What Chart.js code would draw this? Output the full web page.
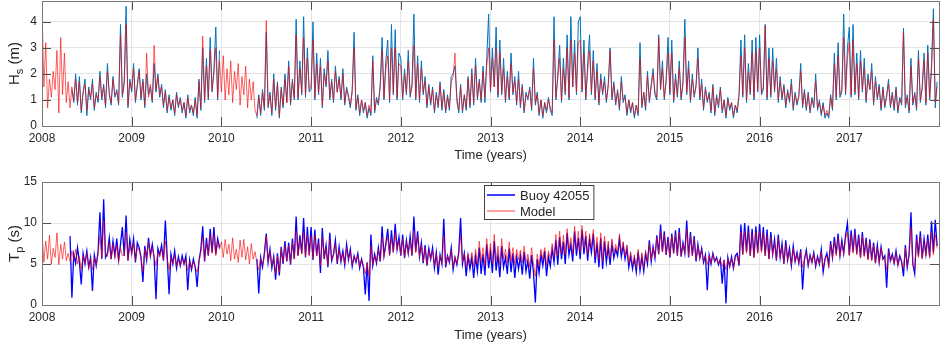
<!DOCTYPE html>
<html>
<head>
<meta charset="utf-8">
<script src="https://cdn.jsdelivr.net/npm/chart.js@4.4.1/dist/chart.umd.min.js"></script>
<style>
  body { margin: 0; background: #fff; }
  #wrap { position: relative; width: 941px; height: 344px; }
  .box { position: absolute; left: 0; width: 941px; height: 172px; }
</style>
</head>
<body>
<div id="wrap">
  <div class="box" style="top:0"><canvas id="hsChart"></canvas></div>
  <div class="box" style="top:172px"><canvas id="tpChart"></canvas></div>
</div>
<script>
// weekly-ish samples, 48 per year (4 per month), starting Jan 2008
const START_YEAR = 2008;
const PER_YEAR = 48;
const yearTicks = [2008, 2009, 2010, 2011, 2012, 2013, 2014, 2015, 2016, 2017];
const _ = null; // no buoy data

// significant wave height Hs (m), buoy 42055
const hsBuoy = [
  _,_,_,_, _,_,_,_, _,_,_,_, _,_,_,_, 1.4,0.9,2.0,0.8, 1.9,0.5,1.3,1.8, 0.4,1.5,1.0,1.8, 0.6,1.3,0.9,2.1, 1.0,1.6,0.7,2.4, 1.2,0.8,1.9,1.1, 1.4,0.8,3.9,1.1, 1.7,4.6,0.7,1.8,
  1.3,2.4,0.9,1.6, 2.2,1.0,1.8,0.7, 2.0,1.2,1.5,0.9, 2.4,1.3,2.0,1.1, 1.6,0.7,1.4,0.5, 1.2,0.6,1.0,0.4, 1.3,0.7,1.1,0.5, 0.9,0.3,1.2,0.5, 0.8,0.4,1.1,0.3, 1.8,0.6,3.0,0.9, 2.6,1.0,3.4,1.3, 2.2,3.8,1.0,2.9,
  _,_,_,_, _,_,_,_, _,_,_,_, _,_,_,_, _,_,_,0.3, 1.2,0.4,1.4,0.6, 3.6,0.7,1.3,0.4, 2.0,0.6,1.7,0.3, 1.5,0.7,2.0,0.9, 2.5,0.8,1.8,1.0, 4.1,1.0,2.5,1.2, 4.2,1.1,3.0,1.3,
  1.4,4.0,1.0,2.8, 1.2,2.6,0.7,2.2, 1.5,2.9,1.0,1.8, 0.9,2.3,1.3,1.9, 1.0,2.2,0.8,1.5, 1.1,0.7,1.4,3.6, 0.6,1.2,0.4,1.0, 0.5,0.9,0.3,0.7, 0.4,2.7,0.5,1.1, 0.8,1.6,3.4,1.0, 2.5,3.3,0.9,3.9, 1.2,3.7,1.0,2.8,
  2.6,1.0,2.2,1.2, 2.9,1.1,1.6,4.3, 1.0,2.7,0.9,2.5, 1.2,1.9,0.7,1.6, 0.8,1.5,0.5,1.3, 0.7,1.7,0.6,1.4, 0.5,1.2,0.6,1.9, 2.0,2.3,1.1,0.5, 1.6,0.5,1.2,0.6, 1.9,0.7,2.2,0.8, 2.6,1.0,1.8,0.9, 2.3,0.9,2.6,4.3,
  1.3,3.0,1.5,3.8, 1.1,3.3,1.2,2.6, 0.9,2.1,1.0,2.8, 1.2,1.9,0.8,2.1, 0.7,1.6,0.5,1.3, 1.0,1.5,0.6,2.6, 0.8,1.3,0.4,1.0, 0.3,0.9,0.5,1.1, 0.6,0.4,4.2,1.0, 2.0,3.1,0.9,2.6, 1.2,3.5,1.0,4.2, 1.5,3.3,1.2,4.0,
  4.2,1.3,3.3,1.0, 2.4,3.5,1.2,2.9, 1.0,2.4,0.8,2.0, 1.2,1.9,0.9,1.6, 3.0,1.0,1.7,0.8, 1.4,0.6,1.9,0.9, 1.2,0.4,1.0,0.5, 0.9,0.3,0.8,0.4, 3.2,0.7,1.3,0.6, 2.1,0.9,1.6,2.2, 1.2,1.0,3.5,1.4, 2.5,1.0,1.8,3.4,
  1.2,3.3,0.9,2.0, 1.1,2.5,1.0,1.7, 4.1,1.2,2.5,0.9, 2.0,1.1,1.6,3.0, 1.0,1.8,0.6,1.5, 0.9,1.3,0.5,1.6, 0.4,1.2,0.7,1.5, 0.5,1.0,0.3,1.1, 0.6,0.9,0.3,0.8, 0.5,1.2,3.3,1.1, 3.5,0.9,2.4,1.2, 3.3,1.0,3.4,1.3,
  3.5,1.2,1.4,3.9, 1.0,3.0,1.1,3.0, 1.3,2.6,0.9,1.9, 1.0,1.6,0.7,1.4, 0.9,1.8,0.6,1.3, 0.8,1.2,2.4,0.7, 1.4,0.6,1.3,0.5, 1.1,0.7,2.0,0.6, 1.0,0.4,0.9,0.3, 0.5,0.3,1.2,0.6, 2.8,1.0,3.2,1.1, 1.3,4.3,1.2,3.0,
  3.8,1.1,3.9,1.2, 2.8,1.0,2.9,1.3, 2.6,0.9,2.0,1.4, 2.4,0.8,1.9,1.0, 1.6,0.6,1.5,0.7, 1.2,1.8,0.7,1.3, 0.6,1.5,0.5,1.1, 0.8,3.75,0.7,1.2, 0.5,2.6,0.8,1.3, 0.6,2.9,0.9,1.5, 2.8,0.8,3.1,1.0, 2.4,4.5,0.7,1.7
];

// Hs (m), model
const hsModel = [
  4.7,1.5,3.2,0.7, 1.8,1.1,2.1,1.4, 2.9,0.5,3.4,1.2, 2.8,0.9,1.7,0.7, 1.5,1.0,1.8,0.9, 1.7,0.6,1.3,1.6, 0.6,1.4,1.1,1.6, 0.7,1.2,1.0,1.9, 1.1,1.5,0.8,2.1, 1.3,0.9,1.8,1.2, 1.3,0.9,3.5,1.2, 1.6,3.9,0.8,1.7,
  1.4,2.2,1.0,1.5, 2.1,1.1,1.7,0.8, 2.8,1.1,1.6,1.0, 3.1,1.4,1.9,1.2, 1.5,0.8,1.3,0.6, 1.1,0.7,1.0,0.5, 1.2,0.8,1.0,0.6, 0.9,0.4,1.1,0.6, 0.8,0.5,1.0,0.4, 1.7,0.7,3.45,1.0, 2.3,1.1,2.9,1.4, 2.0,3.0,1.1,2.5,
  1.3,2.7,1.0,2.2, 1.2,2.5,0.9,2.1, 1.4,2.4,0.8,1.9, 1.2,2.3,0.7,1.8, 1.0,1.7,0.6,0.4, 1.1,0.5,1.3,0.7, 4.05,0.8,1.2,0.5, 1.8,0.7,1.6,0.4, 1.4,0.8,1.8,0.9, 2.3,0.9,1.7,1.1, 3.5,1.1,2.2,1.3, 3.4,1.2,2.6,1.4,
  1.5,3.3,1.1,2.4, 1.3,2.3,0.8,2.0, 1.6,2.5,1.1,1.7, 1.0,2.1,1.3,1.8, 1.1,2.0,0.9,1.4, 1.2,0.8,1.3,3.0, 0.7,1.1,0.5,1.0, 0.6,0.9,0.4,0.8, 0.5,2.5,0.6,1.0, 0.9,1.5,2.9,1.1, 2.2,2.7,1.0,3.0, 1.3,3.0,1.1,2.4,
  2.3,1.1,2.0,1.3, 2.5,1.2,1.5,3.1, 1.1,2.4,1.0,2.2, 1.3,1.7,0.8,1.5, 0.9,1.4,0.6,1.2, 0.8,1.6,0.7,1.3, 0.6,1.1,0.7,1.7, 1.9,2.8,0.9,0.6, 1.5,0.6,1.2,0.7, 1.8,0.8,2.0,0.9, 2.3,1.1,1.7,1.0, 2.1,1.1,2.3,3.0,
  1.4,2.6,1.5,3.0, 1.2,2.8,1.3,2.2, 1.0,1.9,1.1,2.4, 1.3,1.7,0.9,1.8, 0.8,1.5,0.6,1.2, 1.1,1.4,0.7,2.2, 0.9,1.2,0.5,1.0, 0.4,0.9,0.6,1.0, 0.7,0.5,3.3,1.1, 1.8,2.6,1.0,2.2, 1.3,3.0,1.1,3.3, 1.5,2.8,1.3,3.2,
  3.3,1.4,2.8,1.1, 2.1,2.9,1.3,2.5, 1.1,2.1,0.9,1.8, 1.3,1.7,1.0,1.5, 2.9,1.1,1.6,0.9, 1.3,0.7,1.7,1.0, 1.1,0.5,1.0,0.6, 0.9,0.4,0.8,0.5, 2.6,0.8,1.3,0.7, 1.9,1.0,1.5,2.0, 1.3,1.1,3.4,1.4, 2.2,1.1,1.7,2.8,
  1.3,2.8,1.0,1.8, 1.2,2.2,1.1,1.6, 3.4,1.3,2.2,1.0, 1.8,1.2,1.5,2.6, 1.1,1.6,0.7,1.4, 1.0,1.2,0.6,1.5, 0.5,1.1,0.8,1.4, 0.6,1.0,0.4,1.0, 0.7,0.9,0.4,0.8, 0.6,1.2,2.7,1.2, 3.0,1.0,2.1,1.3, 2.8,1.1,2.9,1.4,
  3.0,1.3,1.5,3.85, 1.1,2.6,1.2,2.5, 1.4,2.2,1.0,1.7, 1.1,1.5,0.8,1.3, 1.0,1.6,0.7,1.2, 0.9,1.1,2.1,0.8, 1.3,0.7,1.2,0.6, 1.0,0.8,1.7,0.7, 0.9,0.5,0.8,0.4, 0.6,0.4,1.1,0.7, 2.4,1.1,2.7,1.2, 1.4,3.4,1.3,2.6,
  3.2,1.2,3.3,1.3, 2.4,1.1,2.5,1.4, 2.2,1.0,1.8,1.4, 2.1,0.9,1.7,1.1, 1.5,0.7,1.4,0.8, 1.1,1.6,0.8,1.2, 0.7,1.4,0.6,1.0, 0.9,3.6,0.8,1.1, 0.6,2.3,0.9,1.2, 0.7,2.6,1.0,1.4, 2.5,0.9,2.8,1.1, 2.1,4.1,0.9,1.5
];

// peak period Tp (s), buoy 42055
const tpBuoy = [
  _,_,_,_, _,_,_,_, _,_,_,_, _,_,_,8.4, 0.9,6.2,5.1,7.0, 5.3,2.5,6.3,5.0, 6.6,4.6,5.8,1.7, 6.1,4.8,6.5,11.3, 5.6,12.9,5.8,6.3, 8.2,5.6,7.8,6.0, 8.1,5.5,7.4,9.5, 6.0,10.9,5.4,8.0,
  6.3,8.1,5.2,7.6, 7.0,5.8,2.8,7.2, 5.5,8.2,6.0,7.4, 5.8,0.7,6.9,6.1, 7.3,5.4,10.3,5.9, 1.3,6.2,5.0,6.6, 4.5,5.9,4.8,6.0, 5.0,6.0,1.8,5.5, 4.3,5.6,4.6,2.2, 5.4,6.8,9.6,5.3, 8.2,6.0,9.3,6.4, 9.5,6.2,8.1,7.0,
  _,_,_,_, _,_,_,_, _,_,_,_, _,_,_,_, _,_,_,5.6, 1.4,5.8,4.6,6.3, 8.7,5.2,6.8,4.5, 5.9,3.1,6.3,3.6, 7.1,5.0,7.8,5.3, 7.6,4.9,8.1,5.6, 10.8,6.0,8.5,6.3, 10.6,5.8,9.5,6.1,
  9.5,5.5,9.2,6.0, 8.1,3.9,9.4,5.6, 7.3,4.6,8.8,5.4, 6.2,7.9,5.0,7.1, 5.3,6.6,4.9,7.4, 5.5,6.8,4.7,6.0, 5.2,6.3,4.5,5.6, 4.6,1.3,5.2,0.5, 8.6,4.8,6.2,5.1, 7.0,5.3,9.6,6.0, 7.5,9.3,6.1,9.1, 6.4,9.9,6.8,8.3,
  6.0,8.6,5.7,7.9, 6.3,8.4,6.0,10.8, 6.5,9.0,5.9,7.6, 5.1,7.3,4.8,6.9, 5.6,7.0,4.5,6.4, 3.7,6.1,5.0,10.5, 4.6,6.0,5.2,7.0, 4.3,5.8,4.9,6.4, 10.6,5.0,6.3,3.5, 6.0,4.4,5.8,3.3, 5.9,4.1,7.0,3.8, 6.2,3.6,7.4,4.5,
  6.5,3.9,7.8,4.2, 6.1,3.4,7.2,4.6, 5.8,3.8,6.9,4.0, 6.3,3.3,5.9,4.4, 6.0,3.7,6.5,4.1, 5.4,3.2,6.1,4.0, 0.3,5.6,3.9,6.2, 4.8,6.6,3.5,5.9, 4.7,6.8,5.2,7.9, 4.9,8.3,5.6,7.7, 5.0,8.8,6.1,7.4, 5.3,9.0,6.0,8.2,
  5.6,9.2,6.2,8.4, 5.4,8.0,6.4,8.7, 5.1,7.6,4.6,8.2, 4.4,7.8,5.2,7.1, 4.9,7.5,5.7,6.8, 6.0,8.1,5.9,7.3, 5.6,6.9,4.6,6.0, 4.4,5.7,4.0,6.5, 4.2,5.9,4.1,6.3, 5.0,7.9,5.3,7.1, 5.7,8.5,6.2,9.8, 6.5,9.0,6.1,8.3,
  5.8,8.7,6.3,9.1, 6.0,9.4,5.9,7.6, 6.3,10.3,5.8,8.9, 6.0,8.4,5.3,7.4, 5.7,6.9,5.2,6.1, 1.8,6.1,5.0,6.3, 5.3,5.8,4.9,5.6, 2.6,5.5,0.2,5.8, 4.7,5.9,4.5,6.0, 6.3,4.8,9.8,6.2, 10.0,6.5,9.7,6.0, 9.3,5.8,9.6,6.4,
  9.9,6.6,9.5,6.0, 9.2,5.6,8.9,6.2, 8.0,5.4,8.6,5.8, 7.5,5.0,7.9,5.5, 6.9,4.8,7.2,5.3, 6.4,5.1,6.8,1.9, 5.6,6.7,4.8,6.1, 5.2,6.4,4.7,5.9, 5.0,6.8,4.0,5.6, 6.3,4.9,7.8,5.8, 8.3,6.2,8.7,6.0, 7.9,6.3,8.5,10.0,
  6.1,9.1,6.5,9.3, 6.3,8.6,5.8,8.9, 6.0,8.2,5.6,8.0, 5.5,7.6,5.1,7.3, 5.2,7.1,5.6,6.0, 2.1,6.9,5.4,6.2, 5.1,6.6,4.9,6.0, 5.3,3.5,7.3,4.6, 6.2,11.3,5.0,3.8, 8.6,6.0,9.0,5.7, 8.1,6.2,8.6,5.9, 10.2,6.4,10.4,7.2
];

// Tp (s), model
const tpModel = [
  9.0,5.2,7.8,5.6, 8.5,5.0,6.9,5.8, 8.8,4.9,7.4,5.6, 7.7,5.4,6.3,5.3, 6.6,5.5,6.8,5.0, 5.9,4.3,6.0,5.1, 6.3,4.4,5.7,4.3, 5.8,4.9,6.2,8.5, 5.8,10.3,6.0,5.9, 7.6,5.6,7.4,5.8, 7.3,5.2,7.0,6.0, 6.1,8.8,5.5,7.4,
  6.2,7.6,5.4,7.1, 6.6,5.7,4.1,6.8, 5.6,7.7,5.9,7.0, 5.9,4.8,6.5,5.9, 6.9,5.5,7.8,5.6, 4.3,5.8,5.0,6.1, 4.7,5.6,4.8,5.7, 5.0,5.5,4.2,5.3, 4.5,5.3,4.6,4.0, 5.2,6.4,8.3,5.5, 7.6,6.1,8.5,6.3, 8.6,6.0,7.8,6.8,
  7.7,5.8,8.0,6.2, 7.4,5.4,8.2,5.6, 6.8,5.2,7.9,5.8, 8.0,5.5,7.1,5.0, 7.5,5.6,6.5,5.1, 4.3,5.7,4.8,6.1, 8.4,5.3,6.5,4.8, 5.8,3.8,6.0,4.0, 6.8,5.2,7.3,5.4, 7.2,5.1,7.6,5.6, 9.0,6.0,8.0,6.2, 8.8,5.9,8.6,6.0,
  8.4,5.6,8.5,6.0, 7.6,4.8,8.3,5.7, 7.0,4.9,8.0,5.5, 6.1,7.4,5.2,6.8, 5.4,6.3,5.0,7.0, 5.6,6.5,4.9,5.9, 5.3,6.0,4.7,5.5, 4.8,3.8,5.1,3.5, 7.2,4.9,6.0,5.2, 6.8,5.4,8.3,5.9, 7.2,8.3,6.0,8.2, 6.5,8.8,6.7,7.8,
  6.1,8.1,5.8,7.6, 6.2,7.9,6.1,9.0, 6.4,8.4,5.9,7.3, 5.3,7.0,4.9,6.6, 5.6,6.7,4.8,6.2, 4.6,6.0,5.1,8.5, 4.9,6.0,5.3,6.7, 4.6,5.9,5.0,6.3, 8.5,5.2,6.3,4.6, 6.2,5.0,6.4,4.7, 6.8,5.0,7.8,5.2, 7.0,4.8,8.1,5.4,
  7.5,5.0,8.6,5.4, 7.2,4.9,8.1,5.6, 6.8,5.1,7.7,5.3, 7.0,4.9,6.8,5.5, 6.7,5.1,7.2,5.2, 6.2,4.6,7.0,5.0, 3.5,6.2,4.8,6.8, 5.6,7.0,4.8,6.6, 5.6,7.5,5.9,8.6, 6.0,9.0,6.3,8.5, 6.1,9.3,6.8,8.2, 6.3,9.6,6.8,9.0,
  6.4,9.7,6.9,9.0, 6.2,8.7,7.0,9.2, 5.9,8.3,5.5,8.8, 5.3,8.4,6.0,7.8, 5.7,8.0,6.3,7.4, 6.5,8.6,6.4,7.7, 6.0,7.3,5.1,6.5, 4.9,6.1,4.5,6.8, 4.6,6.3,4.5,6.6, 5.3,7.5,5.5,7.0, 5.8,8.2,6.3,9.0, 6.5,8.6,6.2,8.0,
  6.0,8.4,6.4,8.6, 6.1,8.9,6.0,7.4, 6.3,9.2,5.9,8.5, 6.1,8.0,5.5,7.2, 5.8,6.7,5.3,6.0, 4.9,6.0,5.1,6.2, 5.3,5.7,5.0,5.5, 4.7,5.4,4.3,5.6, 4.8,5.7,4.4,5.8, 6.0,5.0,8.9,6.1, 9.0,6.3,8.9,6.0, 8.6,5.8,8.9,6.3,
  9.0,6.4,8.8,6.0, 8.5,5.6,8.3,6.1, 7.6,5.5,8.1,5.8, 7.1,5.1,7.4,5.5, 6.6,4.9,6.9,5.3, 6.2,5.1,6.5,4.6, 5.5,6.4,4.9,6.0, 5.2,6.2,4.8,5.8, 5.0,6.5,4.5,5.6, 6.0,4.6,7.4,5.7, 7.8,6.0,8.2,5.9, 7.6,6.2,8.1,8.9,
  6.0,8.5,6.3,8.8, 6.1,8.2,5.7,8.4, 5.9,7.8,5.5,7.6, 5.4,7.3,5.1,7.0, 5.1,6.9,5.5,5.8, 4.3,6.6,5.3,6.0, 5.0,6.3,4.8,5.8, 5.2,4.4,7.0,4.7, 6.0,9.5,4.9,4.4, 8.0,5.8,8.4,5.6, 7.6,6.0,8.0,5.7, 8.9,6.1,8.6,6.9
];

const FONT = '"Liberation Sans", Arial, Helvetica, sans-serif';
const TEXT = '#262626';

function toPoints(arr) {
  return arr.map((v, i) => ({ x: START_YEAR + i / PER_YEAR, y: v }));
}

// axes box, inward ticks, axis titles and (optional) legend, MATLAB style
const framePlugin = {
  id: 'frame',
  afterDraw(chart, args, o) {
    const { ctx, chartArea: a, scales: { x, y } } = chart;
    ctx.save();
    ctx.lineWidth = 1;
    ctx.strokeStyle = '#505050';
    ctx.beginPath();
    x.ticks.forEach(t => {
      const px = Math.round(x.getPixelForValue(t.value)) + 0.5;
      ctx.moveTo(px, a.top); ctx.lineTo(px, a.top + 9);
      ctx.moveTo(px, a.bottom); ctx.lineTo(px, a.bottom - 9);
    });
    y.ticks.forEach(t => {
      const py = Math.round(y.getPixelForValue(t.value)) + 0.5;
      ctx.moveTo(a.left, py); ctx.lineTo(a.left + 9, py);
      ctx.moveTo(a.right, py); ctx.lineTo(a.right - 9, py);
    });
    ctx.stroke();
    ctx.strokeStyle = '#7a7a7a';
    ctx.strokeRect(Math.round(a.left) + 0.5, Math.round(a.top) + 0.5,
      Math.round(a.right - a.left), Math.round(a.bottom - a.top));

    // x title
    ctx.fillStyle = TEXT;
    ctx.font = '13px ' + FONT;
    ctx.textAlign = 'center';
    ctx.textBaseline = 'middle';
    ctx.fillText(o.xTitle, (a.left + a.right) / 2, o.xTitleY);

    // y title with subscript, rotated
    ctx.save();
    ctx.translate(o.yTitleX, (a.top + a.bottom) / 2);
    ctx.rotate(-Math.PI / 2);
    ctx.textAlign = 'left';
    ctx.textBaseline = 'alphabetic';
    const big = '15px ' + FONT, small = '11px ' + FONT;
    ctx.font = big; const w1 = ctx.measureText(o.yMain).width; const w3 = ctx.measureText(o.yRest).width;
    ctx.font = small; const w2 = ctx.measureText(o.ySub).width;
    let sx = -(w1 + w2 + w3) / 2;
    ctx.font = big; ctx.fillText(o.yMain, sx, 5); sx += w1;
    ctx.font = small; ctx.fillText(o.ySub, sx, 9); sx += w2;
    ctx.font = big; ctx.fillText(o.yRest, sx, 5);
    ctx.restore();

    if (o.legend) {
      const sets = chart.data.datasets;
      ctx.font = '13px ' + FONT;
      const tw = Math.max(...sets.map(d => ctx.measureText(d.label).width));
      const bx = o.legend.x, by = a.top + 3;
      const bw = 36 + tw + 4, bh = 34;
      ctx.fillStyle = '#fff';
      ctx.fillRect(bx, by, bw, bh);
      ctx.strokeStyle = '#404040';
      ctx.strokeRect(bx + 0.5, by + 0.5, bw, bh);
      // legend order: buoy first, then model
      const order = [...sets].sort((p, q) => p.legendIndex - q.legendIndex);
      order.forEach((d, i) => {
        const ly = by + 10 + i * 16;
        ctx.strokeStyle = d.legendColor;
        ctx.lineWidth = 1.5;
        ctx.beginPath(); ctx.moveTo(bx + 3, ly); ctx.lineTo(bx + 31, ly); ctx.stroke();
        ctx.fillStyle = TEXT;
        ctx.textAlign = 'left';
        ctx.textBaseline = 'middle';
        ctx.fillText(d.label, bx + 36, ly + 1);
      });
    }
    ctx.restore();
  }
};

function makeChart(id, cfg) {
  return new Chart(document.getElementById(id), {
    type: 'line',
    data: {
      datasets: [
        { label: 'Model', data: toPoints(cfg.model), borderColor: 'rgba(255,0,0,0.62)', legendColor: 'rgba(255,0,0,0.5)',
          borderWidth: 1, order: 0, legendIndex: 1 },
        { label: 'Buoy 42055', data: toPoints(cfg.buoy), borderColor: cfg.buoyColor, legendColor: cfg.buoyColor,
          borderWidth: cfg.buoyWidth, order: 1, legendIndex: 0 }
      ]
    },
    options: {
      responsive: true,
      maintainAspectRatio: false,
      animation: false,
      spanGaps: false,
      elements: { point: { radius: 0 }, line: { tension: 0 } },
      layout: { padding: { left: 0, right: 2, top: cfg.padTop, bottom: 0 } },
      plugins: {
        legend: { display: false },
        tooltip: { enabled: false },
        frame: cfg.frame
      },
      scales: {
        x: {
          type: 'linear', min: 2008, max: 2018,
          afterFit(s) { s.height = cfg.xHeight; s.paddingLeft = 0; s.paddingRight = 0; },
          afterBuildTicks(s) { s.ticks = s.ticks.filter(t => Number.isInteger(t.value)); },
          grid: { color: '#e4e4e4', drawTicks: false },
          border: { display: false },
          ticks: {
            stepSize: 1, padding: 5, color: TEXT, font: { family: FONT, size: 12 }, maxRotation: 0,
            callback: v => yearTicks.includes(v) ? String(v) : ''
          }
        },
        y: {
          min: 0, max: cfg.yMax,
          afterFit(s) { s.width = 42; s.paddingTop = 0; s.paddingBottom = 0; },
          afterBuildTicks(s) { s.ticks = s.ticks.filter(t => Number.isInteger(t.value)); },
          grid: { color: '#e4e4e4', drawTicks: false },
          border: { display: false },
          ticks: { stepSize: cfg.yStep, padding: 5, color: TEXT, font: { family: FONT, size: 12 } }
        }
      }
    },
    plugins: [framePlugin]
  });
}

makeChart('hsChart', {
  buoy: hsBuoy, model: hsModel, buoyColor: '#0072BD', buoyWidth: 1,
  yMax: 4.8, yStep: 1, padTop: 1, xHeight: 46,
  frame: { xTitle: 'Time (years)', xTitleY: 155, yTitleX: 14, yMain: 'H', ySub: 's', yRest: ' (m)' }
});

makeChart('tpChart', {
  buoy: tpBuoy, model: tpModel, buoyColor: '#0000FF', buoyWidth: 1.3,
  yMax: 15, yStep: 5, padTop: 10, xHeight: 39,
  frame: { xTitle: 'Time (years)', xTitleY: 163, yTitleX: 14, yMain: 'T', ySub: 'p', yRest: ' (s)',
           legend: { x: 484 } }
});
</script>
</body>
</html>
